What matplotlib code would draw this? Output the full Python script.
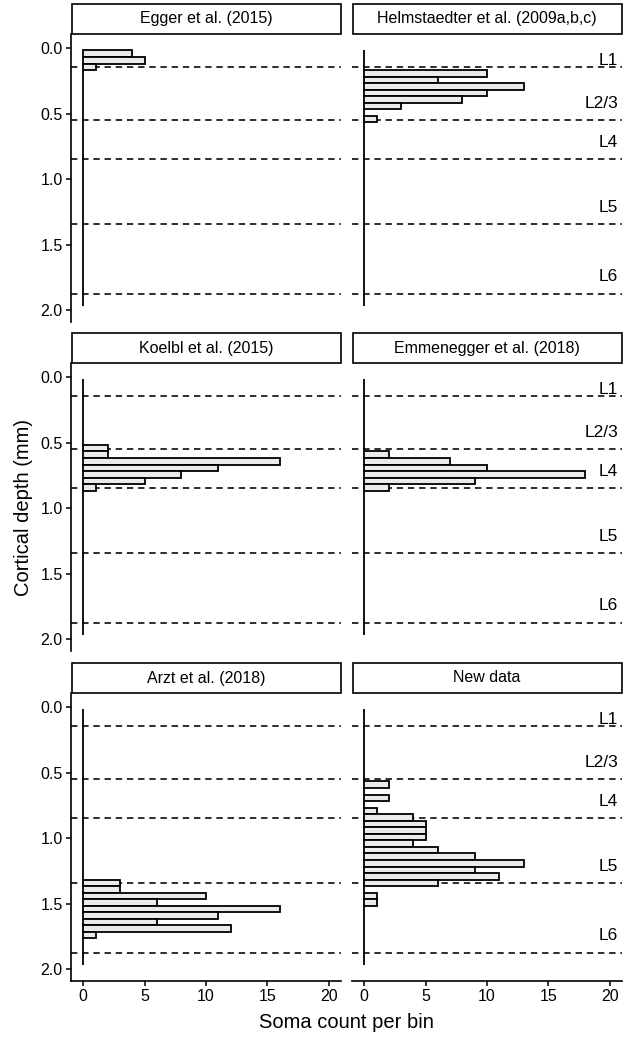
import matplotlib
matplotlib.use("Agg")
import matplotlib.pyplot as plt
from matplotlib.patches import Rectangle
import numpy as np

plt.rcParams["font.family"] = ["Liberation Sans", "DejaVu Sans"]

# histogram bins (mm), 39 bins of 0.05 mm
bin_start = 0.017
bin_width = 0.05
n_bins = 39

# soma counts per bin, {bin index: count}, all other bins are 0
egger = {0: 4, 1: 5, 2: 1}
helmstaedter = {3: 10, 4: 6, 5: 13, 6: 10, 7: 8, 8: 3, 10: 1}
koelbl = {10: 2, 11: 2, 12: 16, 13: 11, 14: 8, 15: 5, 16: 1}
emmenegger = {11: 2, 12: 7, 13: 10, 14: 18, 15: 9, 16: 2}
arzt = {26: 3, 27: 3, 28: 10, 29: 6, 30: 16, 31: 11, 32: 6, 33: 12, 34: 1}
new_data = {11: 2, 13: 2, 15: 1, 16: 4, 17: 5, 18: 5, 19: 5, 20: 4, 21: 6,
            22: 9, 23: 13, 24: 9, 25: 11, 26: 6, 28: 1, 29: 1}

titles = ["Egger et al. (2015)", "Helmstaedter et al. (2009a,b,c)",
          "Koelbl et al. (2015)", "Emmenegger et al. (2018)",
          "Arzt et al. (2018)", "New data"]
datasets = [egger, helmstaedter, koelbl, emmenegger, arzt, new_data]

# layer boundaries (mm) and where the labels go
layer_names = ["L1", "L2/3", "L4", "L5", "L6"]
layer_bounds = [0.145, 0.55, 0.845, 1.345, 1.88]
layer_label_depth = [0.09, 0.42, 0.72, 1.22, 1.745]

W, H = 624, 1037
fig = plt.figure(figsize=(W / 100, H / 100), dpi=100)

edges = bin_start + bin_width * np.arange(n_bins)
centers = edges + bin_width / 2

pw, ph = 270, 288
lefts = [71, 352]
tops = [34, 363, 693]
strip_h = 30

for i, (title, d) in enumerate(zip(titles, datasets)):
    r, c = divmod(i, 2)
    ax = fig.add_axes([lefts[c] / W, 1 - (tops[r] + ph) / H, pw / W, ph / H])
    counts = np.array([d.get(k, 0) for k in range(n_bins)])

    for b in layer_bounds:
        ax.axhline(b, color="black", lw=1.15, linestyle=(0, (4, 3)), zorder=1)

    ax.barh(centers, counts, height=bin_width, color="#ebebeb",
            edgecolor="black", linewidth=1.3, zorder=2)

    ax.set_xlim(-1, 21)
    ax.set_ylim(2.092, -0.109)
    ax.set_yticks([0, 0.5, 1.0, 1.5, 2.0])
    ax.set_yticklabels(["0.0", "0.5", "1.0", "1.5", "2.0"])
    ax.set_xticks([0, 5, 10, 15, 20])

    for s in ["top", "right"]:
        ax.spines[s].set_visible(False)
    ax.spines["left"].set_visible(c == 0)
    ax.spines["bottom"].set_visible(r == 2)
    for s in ["left", "bottom"]:
        ax.spines[s].set_linewidth(1.2)
    ax.tick_params(axis="y", left=(c == 0), labelleft=(c == 0), length=3.5,
                   width=1.1, pad=2.5, labelsize=11.5, colors="black")
    ax.tick_params(axis="x", bottom=(r == 2), labelbottom=(r == 2), length=3.5,
                   width=1.1, pad=2.5, labelsize=11.5, colors="black")

    # facet strip
    ax.add_patch(Rectangle((0.004, 1), 0.996, strip_h / ph, transform=ax.transAxes,
                           clip_on=False, facecolor="white", edgecolor="black", lw=1.2))
    ax.text(0.5, 1 + strip_h / ph / 2, title, transform=ax.transAxes,
            ha="center", va="center", fontsize=11.5)

    if c == 1:
        for name, y in zip(layer_names, layer_label_depth):
            ax.text(20.7, y, name, ha="right", va="center", fontsize=12.5)

fig.text(346.5 / W, 1 - 1028 / H, "Soma count per bin", ha="center",
         va="baseline", fontsize=14.5)
fig.text(24 / W, 1 - 508 / H, "Cortical depth (mm)", ha="center",
         va="center", rotation=90, fontsize=14.5)

fig.savefig("out.png", dpi=100)
